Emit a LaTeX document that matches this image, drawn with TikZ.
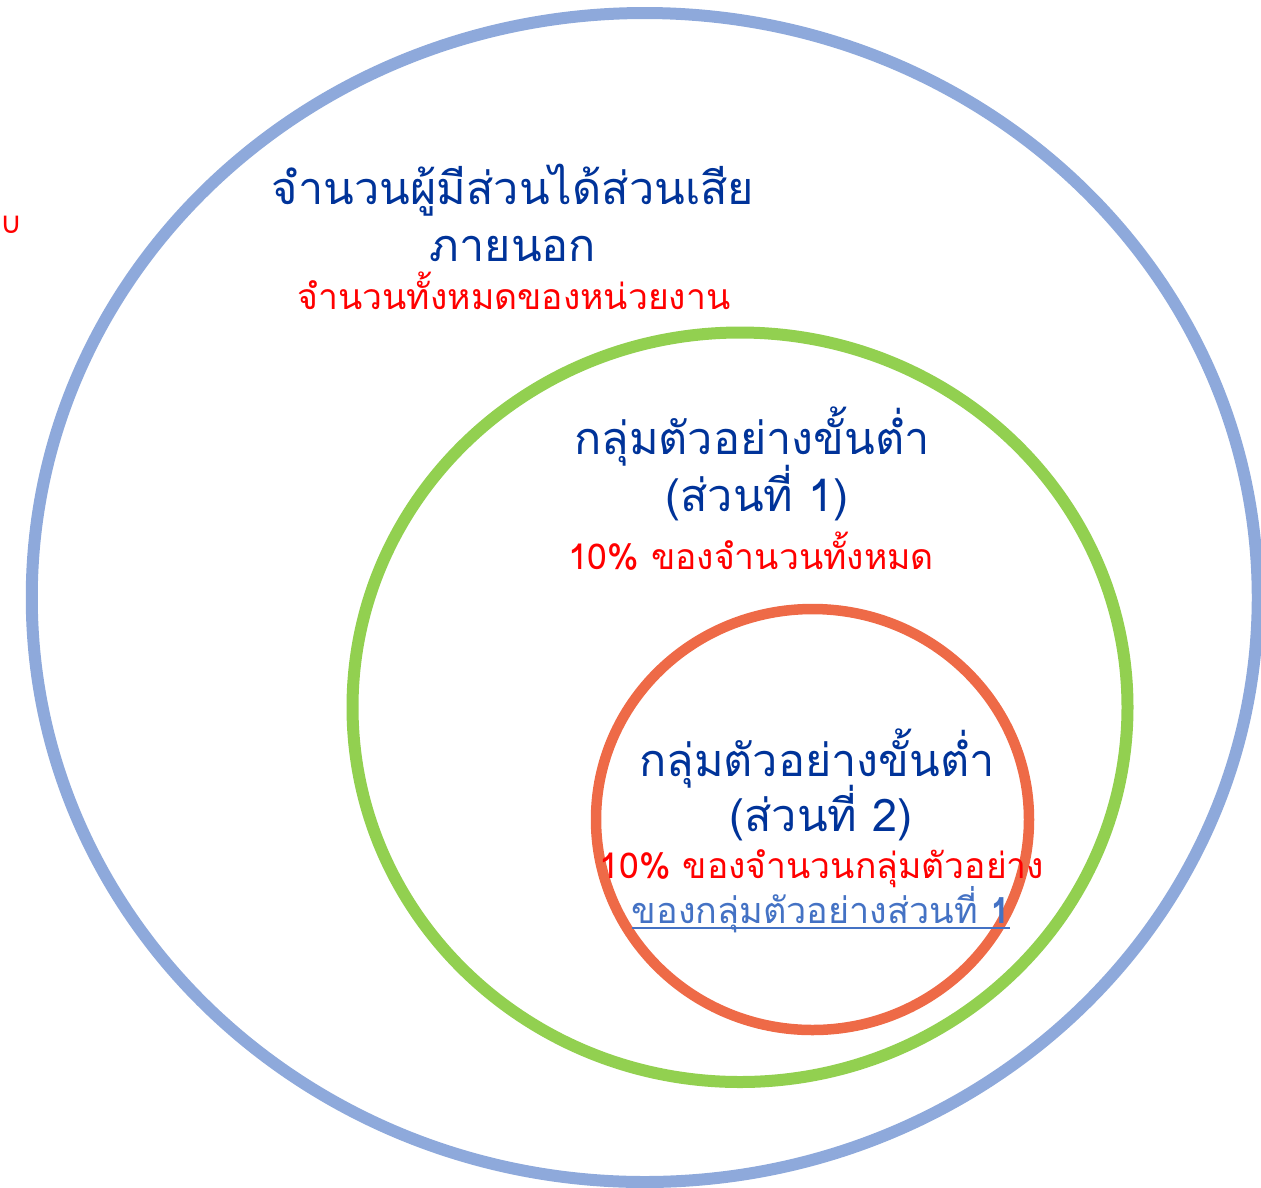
\documentclass[tikz,border=0pt]{standalone}
\usepackage{fontspec}
\newfontfamily\thaifont[Script=Thai]{Loma}
\newfontfamily\symfont{DejaVu Sans}
\definecolor{outerblue}{HTML}{8EA9DB}
\definecolor{midgreen}{HTML}{92D050}
\definecolor{innerred}{HTML}{EE6A47}
\definecolor{titleblue}{HTML}{003399}
\definecolor{notered}{HTML}{FF0000}
\definecolor{linkblue}{HTML}{4472C4}
\tikzset{
  ring/.style={line width=#1},
  headtext/.style={anchor=base, inner sep=0pt, text=titleblue, font=\thaifont\fontsize{45}{50}\selectfont},
  notetext/.style={anchor=base, inner sep=0pt, text=notered, font=\thaifont\fontsize{35.5}{40}\selectfont},
  linktext/.style={anchor=base, inner sep=0pt, text=linkblue, font=\thaifont\fontsize{36}{40}\selectfont}
}
\begin{document}
\begin{tikzpicture}[x=1pt,y=-1pt]
\useasboundingbox (0,0) rectangle (1261,1187);
\draw[ring=12pt, outerblue] (644.75,597.5) ellipse [x radius=613, y radius=584.5];
\draw[ring=12pt, midgreen] (740,707.25) ellipse [x radius=387.5, y radius=374.75];
\draw[ring=10.5pt, innerred] (812.5,819.5) ellipse [x radius=216.5, y radius=210.5];
% outer labels
\node[headtext] (t1) at (513,204) {จำนวนผู้มีส่วนได้ส่วนเสีย};
\node[headtext] (t2) at (513,261) {ภายนอก};
\node[notetext] (t3) at (514,309) {จำนวนทั้งหมดของหน่วยงาน};
% middle labels
\node[headtext] (g1) at (752,454) {กลุ่มตัวอย่างขั้นต่ำ};
\node[headtext] (g2) at (757,511) {(ส่วนที่ 1)};
\node[notetext] (g3) at (751,569) {10\% ของจำนวนทั้งหมด};
% inner labels
\node[headtext] (r1) at (817,776) {กลุ่มตัวอย่างขั้นต่ำ};
\node[headtext] (r2) at (821,831) {(ส่วนที่ 2)};
\node[notetext] (r3) at (822,878) {10\% ของจำนวนกลุ่มตัวอย่าง};
\node[linktext] (r4) at (821,923) {ของกลุ่มตัวอย่างส่วนที่ \textbf{1}};
\draw[linkblue, line width=2pt] ([yshift=-5pt]r4.base west) -- ([yshift=-5pt]r4.base east);
% stray mark at left
\node[anchor=base west, inner sep=0pt, text=notered, font=\symfont\fontsize{30}{32}\selectfont] (m) at (0,233) {∪};
\end{tikzpicture}
\end{document}
